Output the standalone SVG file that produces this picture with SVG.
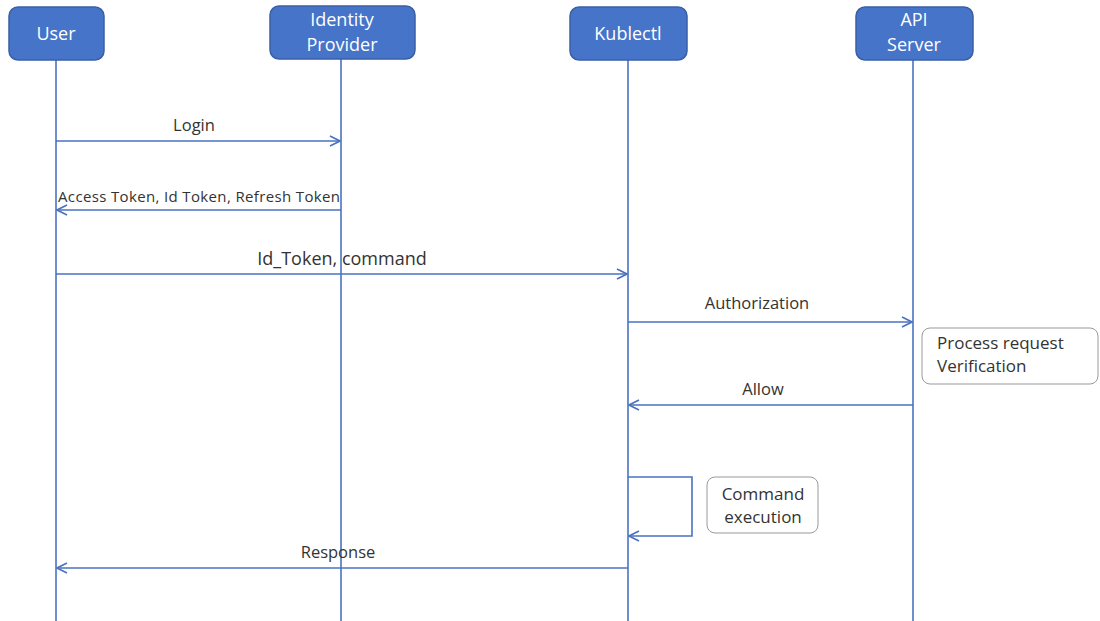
<svg xmlns="http://www.w3.org/2000/svg" width="1100" height="621" viewBox="0 0 1100 621">
<defs>
<marker id="arr" viewBox="0 0 12 12" refX="11" refY="6" markerWidth="12" markerHeight="12" markerUnits="userSpaceOnUse" orient="auto">
<path d="M1,1 L11,6 L1,11" fill="none" stroke="#4a72c0" stroke-width="1.6"/>
</marker>
<style>
.box{fill:#4674c8;stroke:#3a5fa6;stroke-width:1.5}
.nt{font-family:"Open Sans","Liberation Sans",sans-serif;font-size:18px;fill:#ffffff;text-anchor:middle}
.life{stroke:#4a72c0;stroke-width:1.6;fill:none}
.msg{stroke:#4a72c0;stroke-width:1.6;fill:none;marker-end:url(#arr)}
.lb{font-family:"Open Sans","Liberation Sans",sans-serif;font-size:16.5px;fill:#333333;text-anchor:middle}
.note{fill:#ffffff;stroke:#999999;stroke-width:1}
.nl{font-family:"Open Sans","Liberation Sans",sans-serif;font-size:17px;fill:#333333}
</style>
</defs>
<rect width="1100" height="621" fill="#ffffff"/>
<g id="lifelines">
<line class="life" x1="56" y1="60" x2="56" y2="621"/>
<line class="life" x1="341" y1="59" x2="341" y2="621"/>
<line class="life" x1="628" y1="60" x2="628" y2="621"/>
<line class="life" x1="913" y1="60" x2="913" y2="621"/>
</g>
<g id="user"><rect class="box" x="9" y="7" width="95" height="53" rx="9"/><text class="nt" x="56" y="40">User</text></g>
<g id="idp"><rect class="box" x="270" y="6" width="145" height="53" rx="9"/><text class="nt" x="342" y="26">Identity</text><text class="nt" x="342" y="51">Provider</text></g>
<g id="kubectl"><rect class="box" x="570" y="7" width="117" height="53" rx="9"/><text class="nt" x="628" y="40">Kublectl</text></g>
<g id="api"><rect class="box" x="856" y="7" width="117" height="53" rx="9"/><text class="nt" x="914" y="26">API</text><text class="nt" x="914" y="51">Server</text></g>
<g id="connectors">
<line class="msg" x1="56" y1="141" x2="340" y2="141"/>
<text class="lb" x="194" y="131">Login</text>
<line class="msg" x1="341" y1="210" x2="57" y2="210"/>
<text class="lb" x="199" y="202" style="font-size:15px" textLength="282" lengthAdjust="spacing">Access Token, Id Token, Refresh Token</text>
<line class="msg" x1="56" y1="274" x2="627" y2="274"/>
<text class="lb" x="342" y="265" style="font-size:18px">Id_Token, command</text>
<line class="msg" x1="628" y1="322" x2="912" y2="322"/>
<text class="lb" x="757" y="309">Authorization</text>
<line class="msg" x1="913" y1="405" x2="629" y2="405"/>
<text class="lb" x="763" y="395">Allow</text>
<polyline class="msg" points="628,477 692,477 692,536 629,536"/>
<line class="msg" x1="628" y1="568" x2="57" y2="568"/>
<text class="lb" x="338" y="558">Response</text>
</g>
<g id="note-process"><rect class="note" x="922" y="328" width="176" height="56" rx="8"/><text class="nl" x="937" y="349">Process request</text><text class="nl" x="937" y="372">Verification</text></g>
<g id="note-command"><rect class="note" x="707" y="477" width="111" height="56" rx="8"/><text class="nl" x="763" y="500" text-anchor="middle">Command</text><text class="nl" x="763" y="523" text-anchor="middle">execution</text></g>
</svg>
